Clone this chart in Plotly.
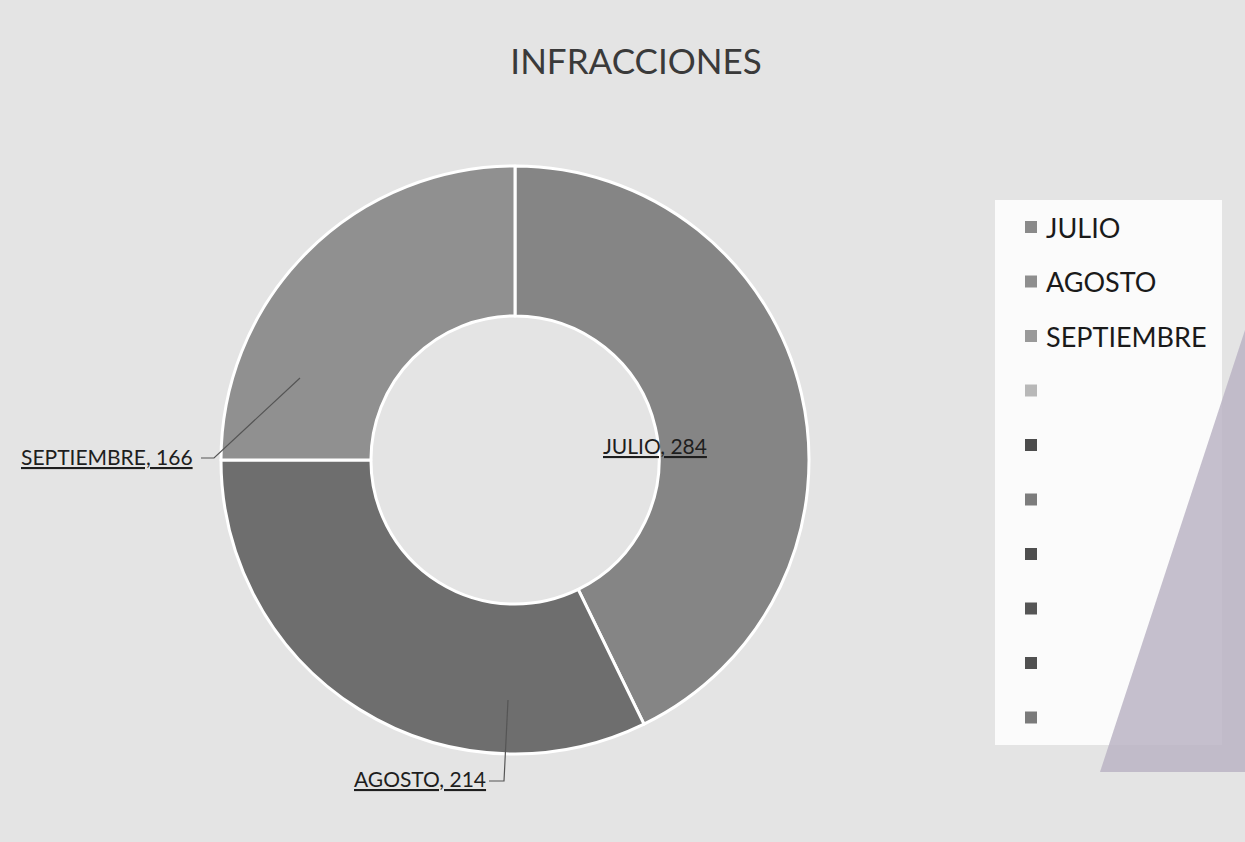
import plotly.graph_objects as go

# ---- data ----
months = ["JULIO", "AGOSTO", "SEPTIEMBRE"]
infracciones = [284, 214, 166]
slice_colors = ["#858585", "#6e6e6e", "#909090"]

legend_labels = ["JULIO", "AGOSTO", "SEPTIEMBRE", "", "", "", "", "", "", ""]
legend_colors = ["#8a8a8a", "#8e8e8e", "#999999", "#b8b8b8", "#4c4c4c",
                 "#7c7c7c", "#4e4e4e", "#555555", "#505050", "#7a7a7a"]

title_text = "INFRACCIONES"

W, H = 1245, 842
def px(x):
    return x / W
def py(y):
    return 1 - y / H

cx, cy, R = 515, 460, 294

fig = go.Figure()
fig.add_trace(go.Pie(
    labels=months,
    values=infracciones,
    marker=dict(colors=slice_colors, line=dict(color="white", width=3)),
    hole=0.49,
    sort=False,
    direction="clockwise",
    rotation=0,
    textinfo="none",
    showlegend=False,
    domain=dict(x=[px(cx - R), px(cx + R)], y=[py(cy + R), py(cy - R)]),
))

annotations = []
shapes = []

# data labels
label_font = dict(family="Lato, 'Open Sans', sans-serif", size=21, color="#1e1e1e")
label_pos = {"JULIO": (655, 445), "AGOSTO": (420, 778), "SEPTIEMBRE": (107, 456)}
for m, v in zip(months, infracciones):
    x, y = label_pos[m]
    annotations.append(dict(
        x=px(x), y=py(y), xref="paper", yref="paper",
        text=f"<u>{m}, {v}</u>", showarrow=False, font=label_font,
        xanchor="center", yanchor="middle"))

# leader lines
leaders = [
    [(201, 458), (214, 458), (300, 378)],
    [(489, 781), (504, 781), (508, 700)],
]
for pts in leaders:
    path = "M " + " L ".join(f"{px(a)},{py(b)}" for a, b in pts)
    shapes.append(dict(type="path", path=path, xref="paper", yref="paper",
                       line=dict(color="#555555", width=1.2)))

# legend box
shapes.append(dict(type="rect", xref="paper", yref="paper",
                   x0=px(995), x1=px(1222), y0=py(745), y1=py(200),
                   fillcolor="#fbfbfb", line=dict(width=0), layer="below"))
row0, step = 227, 54.5
for i, (lab, col) in enumerate(zip(legend_labels, legend_colors)):
    yc = row0 + i * step
    shapes.append(dict(type="rect", xref="paper", yref="paper",
                       x0=px(1025), x1=px(1037), y0=py(yc + 6), y1=py(yc - 6),
                       fillcolor=col, line=dict(width=0)))
    if lab:
        annotations.append(dict(
            x=px(1044), y=py(yc), xref="paper", yref="paper", text=lab,
            showarrow=False, xanchor="left", yanchor="middle",
            font=dict(family="Lato, 'Open Sans', sans-serif", size=27, color="#1a1a1a")))

# scan artifact (tinted page corner)
shapes.append(dict(type="path", xref="paper", yref="paper",
                   path=f"M {px(1245)},{py(330)} L {px(1100)},{py(772)} L {px(1245)},{py(772)} Z",
                   fillcolor="#bbb4c4", line=dict(width=0), opacity=0.85))

fig.update_layout(
    width=W, height=H,
    margin=dict(l=0, r=0, t=0, b=0),
    paper_bgcolor="#e4e4e4",
    plot_bgcolor="#e4e4e4",
    title=dict(text=title_text, x=px(636), y=py(62), xanchor="center", yanchor="middle",
               font=dict(family="Lato, 'Open Sans', sans-serif", size=35, color="#3a3a3a")),
    annotations=annotations,
    shapes=shapes,
)

fig.write_html("out.html", config={"displayModeBar": False},
               post_script="document.body.style.margin='0';document.body.style.overflow='hidden';")
